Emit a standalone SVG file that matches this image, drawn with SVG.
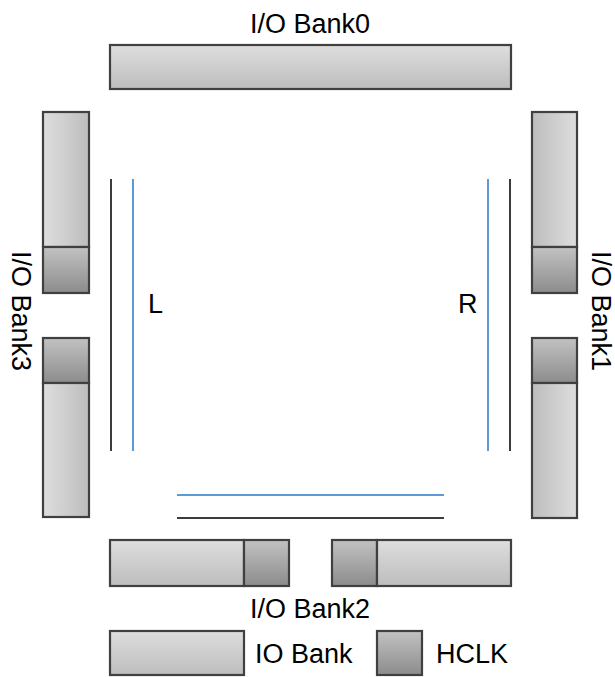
<svg xmlns="http://www.w3.org/2000/svg" width="615" height="677" viewBox="0 0 615 677">
<defs>
<linearGradient id="gv" x1="0" y1="0" x2="0" y2="1"><stop offset="0" stop-color="#dedede"/><stop offset="1" stop-color="#bdbdbd"/></linearGradient>
<linearGradient id="gl" x1="0" y1="0" x2="1" y2="0"><stop offset="0" stop-color="#dedede"/><stop offset="1" stop-color="#bdbdbd"/></linearGradient>
<linearGradient id="gr" x1="0" y1="0" x2="1" y2="0"><stop offset="0" stop-color="#bdbdbd"/><stop offset="1" stop-color="#dedede"/></linearGradient>
<linearGradient id="gh" x1="0" y1="0" x2="0" y2="1"><stop offset="0" stop-color="#c2c2c2"/><stop offset="1" stop-color="#8c8c8c"/></linearGradient>
</defs>
<style>
.b{stroke:#404040;stroke-width:2.2}
.v{fill:url(#gv)}
.l{fill:url(#gl)}
.r{fill:url(#gr)}
.h{fill:url(#gh)}
.t{font-family:"Liberation Sans",Arial,sans-serif;font-size:27px;fill:#000}
.k{stroke:#3c3c3c;stroke-width:2;fill:none}
.u{stroke:#5b9bd5;stroke-width:2;fill:none}
</style>
<rect width="615" height="677" fill="#fff"/>
<g id="bank0">
<rect class="b v" x="110" y="45" width="401" height="44"/>
<text class="t" x="310" y="33" text-anchor="middle">I/O Bank0</text>
</g>
<g id="bank3">
<rect class="b l" x="43" y="112" width="46" height="135"/>
<rect class="b h" x="43" y="247" width="46" height="46"/>
<rect class="b h" x="43" y="338" width="46" height="45"/>
<rect class="b l" x="43" y="383" width="46" height="134"/>
<text class="t" transform="translate(12,251) rotate(90)">I/O Bank3</text>
</g>
<g id="bank1">
<rect class="b r" x="532" y="112" width="45" height="135"/>
<rect class="b h" x="532" y="247" width="45" height="46"/>
<rect class="b h" x="532" y="338" width="45" height="45"/>
<rect class="b r" x="532" y="383" width="45" height="135"/>
<text class="t" transform="translate(592,251) rotate(90)">I/O Bank1</text>
</g>
<g id="bank2">
<rect class="b v" x="110" y="540" width="134" height="46"/>
<rect class="b h" x="244" y="540" width="45" height="46"/>
<rect class="b h" x="332" y="540" width="45" height="46"/>
<rect class="b v" x="377" y="540" width="134" height="46"/>
<text class="t" x="310" y="618" text-anchor="middle">I/O Bank2</text>
</g>
<g id="legend">
<rect class="b v" x="110" y="631" width="134" height="44"/>
<text class="t" x="255" y="663">IO Bank</text>
<rect class="b h" x="377" y="631" width="45" height="44"/>
<text class="t" x="436" y="663">HCLK</text>
</g>
<g id="lines">
<line class="k" x1="111" y1="179" x2="111" y2="451"/>
<line class="u" x1="133" y1="179" x2="133" y2="451"/>
<line class="u" x1="488" y1="179" x2="488" y2="451"/>
<line class="k" x1="510" y1="179" x2="510" y2="451"/>
<line class="u" x1="177" y1="495" x2="444" y2="495"/>
<line class="k" x1="177" y1="518" x2="444" y2="518"/>
</g>
<g id="labelL"><text class="t" x="148" y="313">L</text></g>
<g id="labelR"><text class="t" x="458" y="313">R</text></g>
</svg>
